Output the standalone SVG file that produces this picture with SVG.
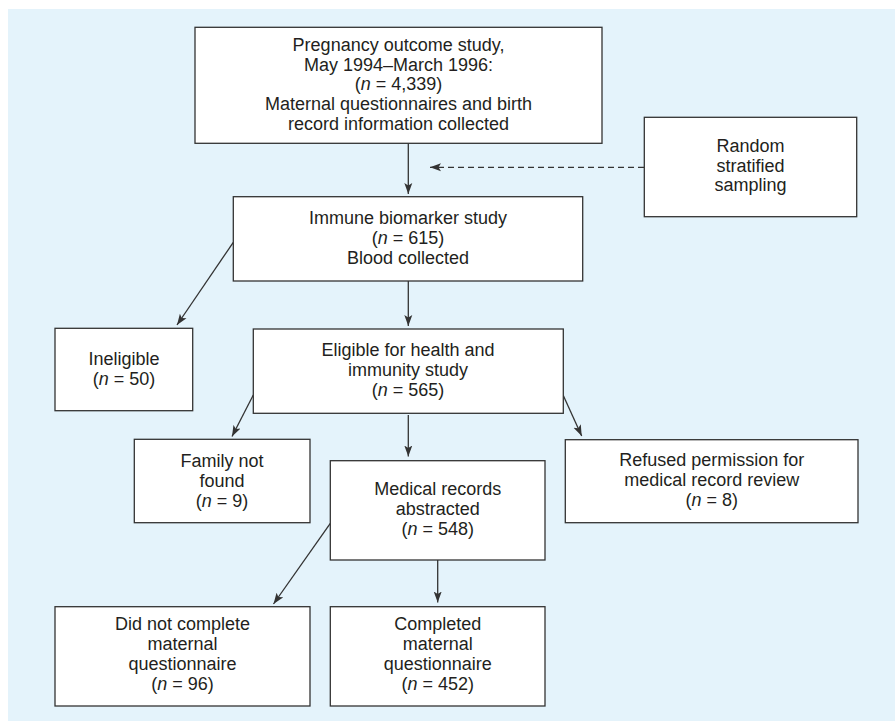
<svg xmlns="http://www.w3.org/2000/svg" width="895" height="721" viewBox="0 0 895 721">
<style>
  .box { fill: #ffffff; stroke: #333333; stroke-width: 1.3; }
  .t { font-family: "Liberation Sans", Arial, sans-serif; font-size: 18px; fill: #231f20; text-anchor: middle; }
  .i { font-style: italic; }
  .c { stroke: #333333; stroke-width: 1.3; fill: none; marker-end: url(#ah); }
  .d { stroke-dasharray: 6 4; }
</style>
<defs>
  <marker id="ah" markerUnits="userSpaceOnUse" markerWidth="12" markerHeight="9" refX="11" refY="4" orient="auto" viewBox="0 0 12 8">
    <path d="M0,0 L11,4 L0,8 L2.5,4 z" fill="#333333"/>
  </marker>
</defs>
<rect x="8" y="9" width="887" height="712" fill="#e4f3fb"/>

<g id="connectors">
  <line class="c" x1="408.3" y1="143.3" x2="408.3" y2="194"/>
  <line class="c d" x1="644" y1="167.3" x2="430" y2="167.3"/>
  <line class="c" x1="233.3" y1="242.3" x2="177" y2="325"/>
  <line class="c" x1="408.3" y1="281" x2="408.3" y2="326"/>
  <line class="c" x1="253.3" y1="395" x2="232" y2="436.5"/>
  <line class="c" x1="408.3" y1="415" x2="408.3" y2="456.5"/>
  <line class="c" x1="563.3" y1="395.5" x2="581.7" y2="436"/>
  <line class="c" x1="330.3" y1="523.3" x2="273.5" y2="604"/>
  <line class="c" x1="437.7" y1="560" x2="437.7" y2="602.5"/>
</g>

<g id="pregnancy">
  <rect class="box" x="195" y="27.3" width="407" height="116"/>
  <text class="t" x="398.5" y="51">Pregnancy outcome study,</text>
  <text class="t" x="398.5" y="71">May 1994–March 1996:</text>
  <text class="t" x="398.5" y="90">(<tspan class="i">n</tspan> = 4,339)</text>
  <text class="t" x="398.5" y="110">Maternal questionnaires and birth</text>
  <text class="t" x="398.5" y="130">record information collected</text>
</g>

<g id="random">
  <rect class="box" x="644.3" y="117.3" width="212.4" height="99.4"/>
  <text class="t" x="750.5" y="152">Random</text>
  <text class="t" x="750.5" y="172">stratified</text>
  <text class="t" x="750.5" y="191">sampling</text>
</g>

<g id="immune">
  <rect class="box" x="233.3" y="196.7" width="349.4" height="84.3"/>
  <text class="t" x="408" y="224">Immune biomarker study</text>
  <text class="t" x="408" y="244">(<tspan class="i">n</tspan> = 615)</text>
  <text class="t" x="408" y="264">Blood collected</text>
</g>

<g id="ineligible">
  <rect class="box" x="55" y="328.3" width="137.7" height="82.4"/>
  <text class="t" x="124" y="365">Ineligible</text>
  <text class="t" x="124" y="385">(<tspan class="i">n</tspan> = 50)</text>
</g>

<g id="eligible">
  <rect class="box" x="253.3" y="329" width="310" height="84.3"/>
  <text class="t" x="408" y="356">Eligible for health and</text>
  <text class="t" x="408" y="376">immunity study</text>
  <text class="t" x="408" y="396">(<tspan class="i">n</tspan> = 565)</text>
</g>

<g id="family">
  <rect class="box" x="134.3" y="439.3" width="175.7" height="83.4"/>
  <text class="t" x="222" y="467">Family not</text>
  <text class="t" x="222" y="487">found</text>
  <text class="t" x="222" y="507">(<tspan class="i">n</tspan> = 9)</text>
</g>

<g id="medical">
  <rect class="box" x="330.3" y="460.7" width="214.7" height="99.3"/>
  <text class="t" x="437.7" y="495">Medical records</text>
  <text class="t" x="437.7" y="515">abstracted</text>
  <text class="t" x="437.7" y="535">(<tspan class="i">n</tspan> = 548)</text>
</g>

<g id="refused">
  <rect class="box" x="565.3" y="439.7" width="292.7" height="83"/>
  <text class="t" x="711.7" y="466">Refused permission for</text>
  <text class="t" x="711.7" y="486">medical record review</text>
  <text class="t" x="711.7" y="506">(<tspan class="i">n</tspan> = 8)</text>
</g>

<g id="didnot">
  <rect class="box" x="55" y="606.7" width="255" height="99.3"/>
  <text class="t" x="182.5" y="630">Did not complete</text>
  <text class="t" x="182.5" y="650">maternal</text>
  <text class="t" x="182.5" y="670">questionnaire</text>
  <text class="t" x="182.5" y="690">(<tspan class="i">n</tspan> = 96)</text>
</g>

<g id="completed">
  <rect class="box" x="330.3" y="606.7" width="214.7" height="99.3"/>
  <text class="t" x="437.7" y="630">Completed</text>
  <text class="t" x="437.7" y="650">maternal</text>
  <text class="t" x="437.7" y="670">questionnaire</text>
  <text class="t" x="437.7" y="690">(<tspan class="i">n</tspan> = 452)</text>
</g>
</svg>
